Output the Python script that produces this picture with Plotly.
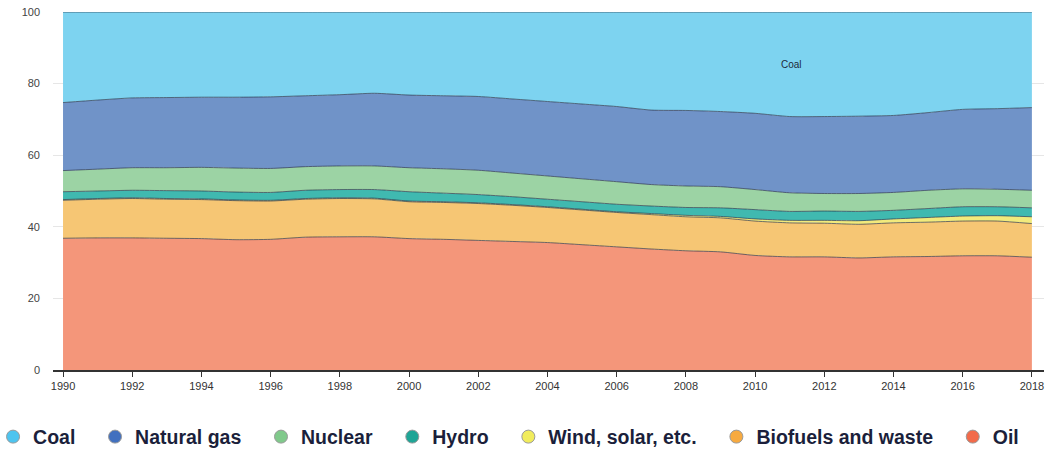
import plotly.graph_objects as go

years = list(range(1990, 2019))

# Share of total primary energy supply (%), by source
oil = [36.8, 36.9, 36.9, 36.8, 36.7, 36.4, 36.5, 37.1, 37.2, 37.2, 36.7, 36.5, 36.2, 35.9, 35.6,
       35.0, 34.4, 33.8, 33.3, 33.0, 32.0, 31.6, 31.6, 31.3, 31.6, 31.7, 31.9, 31.9, 31.5]
biofuels = [10.6, 10.8, 11.0, 10.9, 10.9, 10.9, 10.7, 10.6, 10.7, 10.6, 10.3, 10.3, 10.3, 10.1, 9.8,
            9.7, 9.6, 9.6, 9.5, 9.5, 9.6, 9.5, 9.4, 9.4, 9.5, 9.6, 9.7, 9.7, 9.4]
wind_solar = [0.2, 0.2, 0.2, 0.2, 0.2, 0.2, 0.2, 0.2, 0.2, 0.2, 0.2, 0.2, 0.2, 0.2, 0.2,
              0.2, 0.2, 0.3, 0.4, 0.4, 0.6, 0.7, 0.8, 1.0, 1.1, 1.3, 1.4, 1.5, 1.9]
hydro = [2.2, 2.1, 2.1, 2.2, 2.2, 2.2, 2.2, 2.3, 2.3, 2.4, 2.6, 2.4, 2.3, 2.2, 2.1,
         2.1, 2.1, 2.1, 2.2, 2.4, 2.6, 2.5, 2.6, 2.6, 2.4, 2.5, 2.6, 2.5, 2.5]
nuclear = [5.9, 6.1, 6.3, 6.4, 6.6, 6.7, 6.7, 6.6, 6.6, 6.6, 6.7, 6.8, 6.8, 6.6, 6.5,
           6.4, 6.3, 6.0, 6.0, 5.9, 5.6, 5.2, 4.9, 5.0, 5.0, 5.1, 5.0, 4.9, 4.9]
natural_gas = [19.0, 19.3, 19.5, 19.6, 19.6, 19.8, 20.0, 19.8, 19.9, 20.3, 20.3, 20.4, 20.6, 20.7, 20.8,
               20.9, 21.0, 20.8, 21.1, 21.0, 21.3, 21.3, 21.5, 21.6, 21.5, 21.7, 22.2, 22.5, 23.1]
coal = [25.3, 24.6, 24.0, 23.9, 23.8, 23.8, 23.7, 23.4, 23.1, 22.7, 23.2, 23.4, 23.6, 24.3, 25.0,
        25.7, 26.4, 27.4, 27.5, 27.8, 28.3, 29.2, 29.2, 29.1, 28.9, 28.1, 27.2, 27.0, 26.7]

# bottom-to-top stacking order: (name, values, fill colour, legend dot colour)
series = [
    ("Oil", oil, "#f4967a", "#f26b4b"),
    ("Biofuels and waste", biofuels, "#f6c674", "#f7aa40"),
    ("Wind, solar, etc.", wind_solar, "#f2ea7c", "#f1ec5c"),
    ("Hydro", hydro, "#40b9b0", "#1fa596"),
    ("Nuclear", nuclear, "#9cd3a4", "#80c98b"),
    ("Natural gas", natural_gas, "#7093c8", "#4170bf"),
    ("Coal", coal, "#7dd3f0", "#4ec4ef"),
]

fig = go.Figure()
for name, vals, fill, _ in series:
    fig.add_trace(go.Scatter(
        x=years, y=vals, name=name, stackgroup="energy", mode="lines",
        line=dict(width=0.9, color="rgba(40,50,70,0.75)", shape="spline", smoothing=0.6),
        fillcolor=fill, showlegend=False, hoverinfo="x+y+name",
    ))

# legend entries with round dots, listed top of stack first;
# trailing non-breaking spaces widen the gap between entries
PAD = "\u00a0\u00a0\u2009"
for name, _, _, dot in reversed(series):
    fig.add_trace(go.Scatter(
        x=[None], y=[None], name=name + PAD, mode="markers",
        marker=dict(symbol="circle", size=13, color=dot, line=dict(color="#9a9a9a", width=1)),
        showlegend=True, hoverinfo="skip",
    ))

fig.add_annotation(x=2011.05, y=85.2, text="Coal", showarrow=False,
                   font=dict(family="Liberation Sans, Arial", size=10, color="#1d2a3a"))

fig.update_layout(
    width=1050, height=449,
    margin=dict(l=53, r=6, t=12, b=79, autoexpand=False),
    paper_bgcolor="white", plot_bgcolor="white",
    font=dict(family="Liberation Sans, Arial", color="#333"),
    showlegend=True,
    legend=dict(orientation="h", x=-0.0605, y=-0.187, xanchor="left", yanchor="middle",
                font=dict(family="Liberation Sans, Arial", size=19.5, color="#1b1f3b", weight="bold"),
                traceorder="normal", itemwidth=30, bgcolor="rgba(0,0,0,0)"),
    xaxis=dict(range=[1989.71, 2018.35], tickmode="array", tickvals=list(range(1990, 2019, 2)),
               showgrid=False, zeroline=False, showline=True, linecolor="#333", linewidth=1.5,
               ticks="outside", ticklen=5, tickcolor="#333",
               tickfont=dict(size=11, color="#333")),
    yaxis=dict(range=[0, 100], tickvals=[0, 20, 40, 60, 80, 100], showgrid=True,
               gridcolor="#e6e6e6", zeroline=False, showline=False, ticks="",
               ticklabelstandoff=12, tickfont=dict(size=11, color="#444")),
)

fig.write_html("out.html")
